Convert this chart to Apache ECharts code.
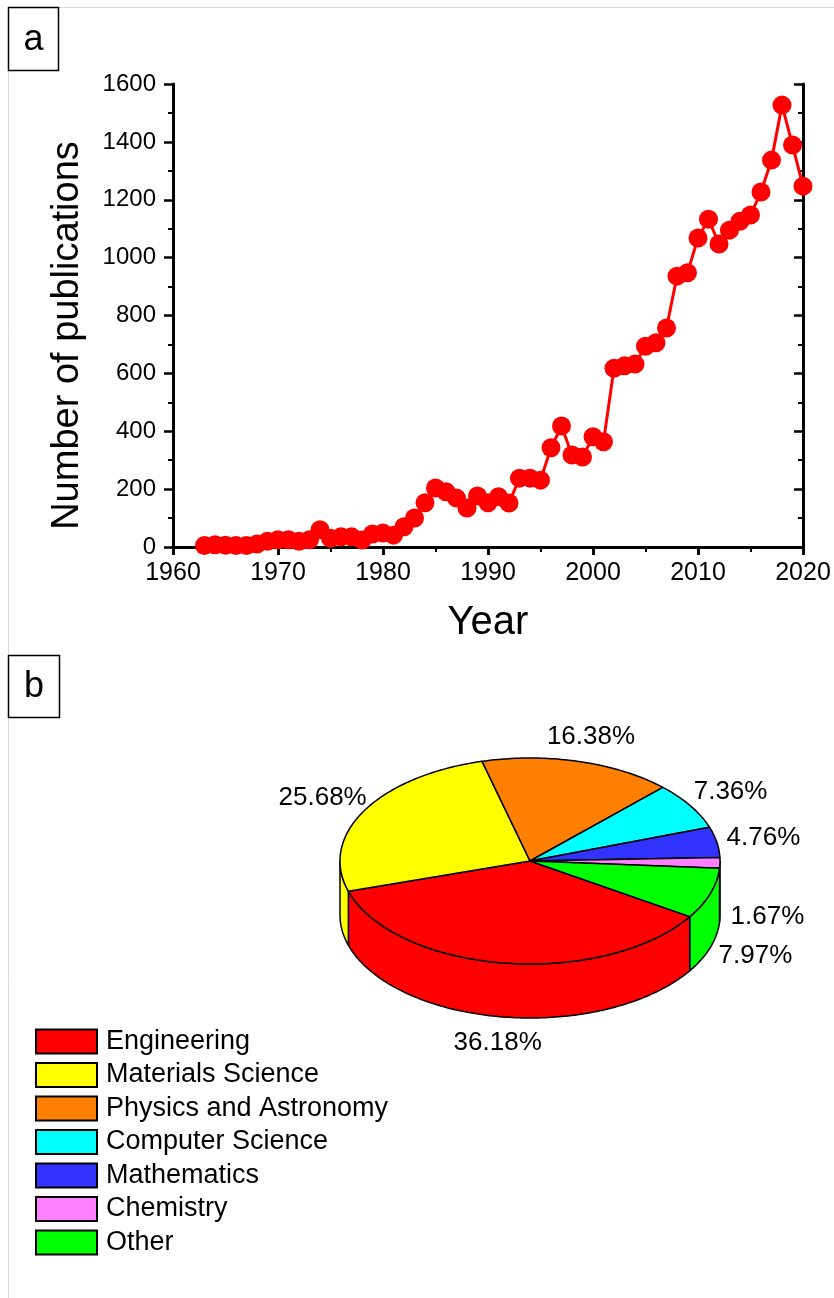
<!DOCTYPE html>
<html>
<head>
<meta charset="utf-8">
<script src="https://cdn.jsdelivr.net/npm/echarts@6/dist/echarts.min.js"></script>
<style>
  html, body { margin: 0; padding: 0; background: #fff; }
  #main { width: 834px; height: 1298px; }
</style>
</head>
<body>
<div id="main"></div>
<script>
// panel a: publications per year
var years = [1963, 1964, 1965, 1966, 1967, 1968, 1969, 1970, 1971, 1972,
	1973, 1974, 1975, 1976, 1977, 1978, 1979, 1980, 1981, 1982,
	1983, 1984, 1985, 1986, 1987, 1988, 1989, 1990, 1991, 1992,
	1993, 1994, 1995, 1996, 1997, 1998, 1999, 2000, 2001, 2002,
	2003, 2004, 2005, 2006, 2007, 2008, 2009, 2010, 2011, 2012,
	2013, 2014, 2015, 2016, 2017, 2018, 2019, 2020];
var pubs = [5, 8, 6, 5, 5, 10, 20, 25, 25, 20,
	25, 60, 30, 35, 35, 24, 45, 48, 41, 70,
	100, 153, 204, 191, 169, 135, 176, 153, 174, 152,
	238, 238, 231, 343, 418, 318, 311, 381, 364, 618,
	626, 632, 694, 706, 757, 936, 948, 1068, 1133, 1047,
	1095, 1126, 1147, 1227, 1337, 1527, 1389, 1247];

// panel b: subject areas
var fields = ['Engineering', 'Materials Science', 'Physics and Astronomy',
	'Computer Science', 'Mathematics', 'Chemistry', 'Other'];
var shares = [36.18, 25.68, 16.38, 7.36, 4.76, 1.67, 7.97];
var fieldColors = ['#ff0000', '#ffff00', '#ff8000', '#00ffff', '#3333ff', '#ff80ff', '#00ff00'];

var FONT = 'Liberation Sans, Arial, sans-serif';

// 3d pie geometry (screen angles, clockwise from 3 o'clock)
var pie = { cx: 530, cy: 861, rx: 190, ry: 103, depth: 54, start: 32.7, labelK: 1.25 };

var total = shares.reduce(function (a, b) { return a + b; }, 0);

function arc(a0, a1, dy) {
	var pts = [];
	var n = Math.max(2, Math.ceil(Math.abs(a1 - a0)));
	for (var i = 0; i <= n; i++) {
		var t = (a0 + (a1 - a0) * i / n) * Math.PI / 180;
		pts.push([pie.cx + pie.rx * Math.cos(t), pie.cy + pie.ry * Math.sin(t) + dy]);
	}
	return pts;
}

function sliceRenderer(idx) {
	return function (params, api) {
		var before = 0;
		for (var i = 0; i < idx; i++) before += shares[i];
		var a0 = pie.start + before / total * 360;
		var a1 = a0 + api.value(0) / total * 360;
		var color = fieldColors[idx];
		var stroke = { stroke: '#000', lineWidth: 1.5, lineJoin: 'round' };
		var children = [];
		// front side wall, only where the rim faces the viewer
		for (var k = -1; k <= 2; k++) {
			var lo = Math.max(a0, k * 360), hi = Math.min(a1, k * 360 + 180);
			if (hi - lo > 0.01) {
				var top = arc(lo, hi, 0);
				var bottom = arc(hi, lo, pie.depth);
				children.push({
					type: 'polygon',
					shape: { points: top.concat(bottom) },
					style: Object.assign({ fill: color }, stroke)
				});
			}
		}
		// top face
		children.push({
			type: 'polygon',
			shape: { points: [[pie.cx, pie.cy]].concat(arc(a0, a1, 0)) },
			style: Object.assign({ fill: color }, stroke)
		});
		// percentage label
		var mid = (a0 + a1) / 2 * Math.PI / 180;
		var lx = pie.cx + pie.rx * pie.labelK * Math.cos(mid);
		var ly = pie.cy + pie.ry * pie.labelK * Math.sin(mid);
		if (Math.sin(mid) >= 0) ly += pie.depth;
		children.push({
			type: 'text',
			style: {
				text: api.value(0).toFixed(2) + '%',
				x: lx, y: ly,
				align: 'center', verticalAlign: 'middle',
				fill: '#000', font: '26px ' + FONT
			}
		});
		return { type: 'group', children: children };
	};
}

var axisLine = { show: true, lineStyle: { color: '#000', width: 3 } };
var plain = function (v) { return String(v); };

var series = [{
	name: 'Publications',
	type: 'line',
	xAxisIndex: 0,
	yAxisIndex: 0,
	data: years.map(function (y, i) { return [y, pubs[i]]; }),
	symbol: 'circle',
	symbolSize: 19,
	showAllSymbol: true,
	lineStyle: { color: '#ff0000', width: 3 },
	itemStyle: { color: '#ff0000' },
	z: 1
}];

fields.forEach(function (name, i) {
	series.push({
		name: name,
		type: 'custom',
		coordinateSystem: 'none',
		data: [[shares[i]]],
		itemStyle: { color: fieldColors[i], borderColor: '#000', borderWidth: 2 },
		renderItem: sliceRenderer(i)
	});
});

var option = {
	animation: false,
	backgroundColor: '#fff',
	textStyle: { fontFamily: FONT },
	grid: { left: 173, right: 31, top: 84, bottom: 751, containLabel: false },
	xAxis: [{
		type: 'value', min: 1960, max: 2020, interval: 10,
		position: 'bottom',
		name: 'Year', nameLocation: 'middle', nameGap: 56,
		nameTextStyle: { fontSize: 40, color: '#000', fontFamily: FONT },
		axisLine: axisLine,
		axisTick: { show: true, inside: false, length: 8, lineStyle: { color: '#000', width: 2.5 } },
		minorTick: { show: true, splitNumber: 2, length: 5, lineStyle: { color: '#000', width: 2 } },
		axisLabel: { fontSize: 25, color: '#000', margin: 14, fontFamily: FONT, formatter: plain },
		splitLine: { show: false }
	}, {
		type: 'value', min: 1960, max: 2020, interval: 10,
		position: 'top',
		axisLine: axisLine,
		axisTick: { show: true, inside: true, length: 8, lineStyle: { color: '#000', width: 2.5 } },
		minorTick: { show: true, splitNumber: 2, length: 5, lineStyle: { color: '#000', width: 2 } },
		axisLabel: { show: false },
		splitLine: { show: false }
	}],
	yAxis: [{
		type: 'value', min: 0, max: 1600, interval: 200,
		position: 'left',
		name: 'Number of publications', nameLocation: 'middle', nameGap: 86,
		nameTextStyle: { fontSize: 38, color: '#000', fontFamily: FONT, padding: [0, 40, 0, 0] },
		axisLine: axisLine,
		axisTick: { show: true, inside: false, length: 9, lineStyle: { color: '#000', width: 2.5 } },
		minorTick: { show: true, splitNumber: 2, length: 5, lineStyle: { color: '#000', width: 2 } },
		axisLabel: { fontSize: 24, color: '#000', margin: 17, fontFamily: FONT, formatter: plain },
		splitLine: { show: false }
	}, {
		type: 'value', min: 0, max: 1600, interval: 200,
		position: 'right',
		axisLine: axisLine,
		axisTick: { show: true, inside: true, length: 9, lineStyle: { color: '#000', width: 2.5 } },
		minorTick: { show: true, splitNumber: 2, length: 5, lineStyle: { color: '#000', width: 2 } },
		axisLabel: { show: false },
		splitLine: { show: false }
	}],
	legend: {
		data: fields,
		orient: 'vertical',
		left: 35, top: 1028,
		padding: 0,
		icon: 'rect',
		itemWidth: 61, itemHeight: 24,
		itemGap: 6.5,
		itemStyle: { borderColor: '#000', borderWidth: 2 },
		textStyle: { fontSize: 27, lineHeight: 24, color: '#000', fontFamily: FONT, padding: [0, 0, 0, 4] },
		selectedMode: false
	},
	graphic: [
		{ type: 'rect', silent: true, shape: { x: 8.5, y: 7.5, width: 900, height: 1400 },
		  style: { fill: 'none', stroke: '#d9d9d9', lineWidth: 1 }, z: -10 },
		{ type: 'rect', shape: { x: 8.5, y: 7.5, width: 50, height: 63 },
		  style: { fill: '#fff', stroke: '#000', lineWidth: 1.5 } },
		{ type: 'text', style: { text: 'a', x: 33.5, y: 40, align: 'center', verticalAlign: 'middle',
		  font: '36px ' + FONT, fill: '#000' } },
		{ type: 'rect', shape: { x: 8.5, y: 655.5, width: 51, height: 62 },
		  style: { fill: '#fff', stroke: '#000', lineWidth: 1.5 } },
		{ type: 'text', style: { text: 'b', x: 34, y: 687, align: 'center', verticalAlign: 'middle',
		  font: '36px ' + FONT, fill: '#000' } }
	],
	series: series
};

var chart = echarts.init(document.getElementById('main'));
chart.setOption(option);
</script>
</body>
</html>
